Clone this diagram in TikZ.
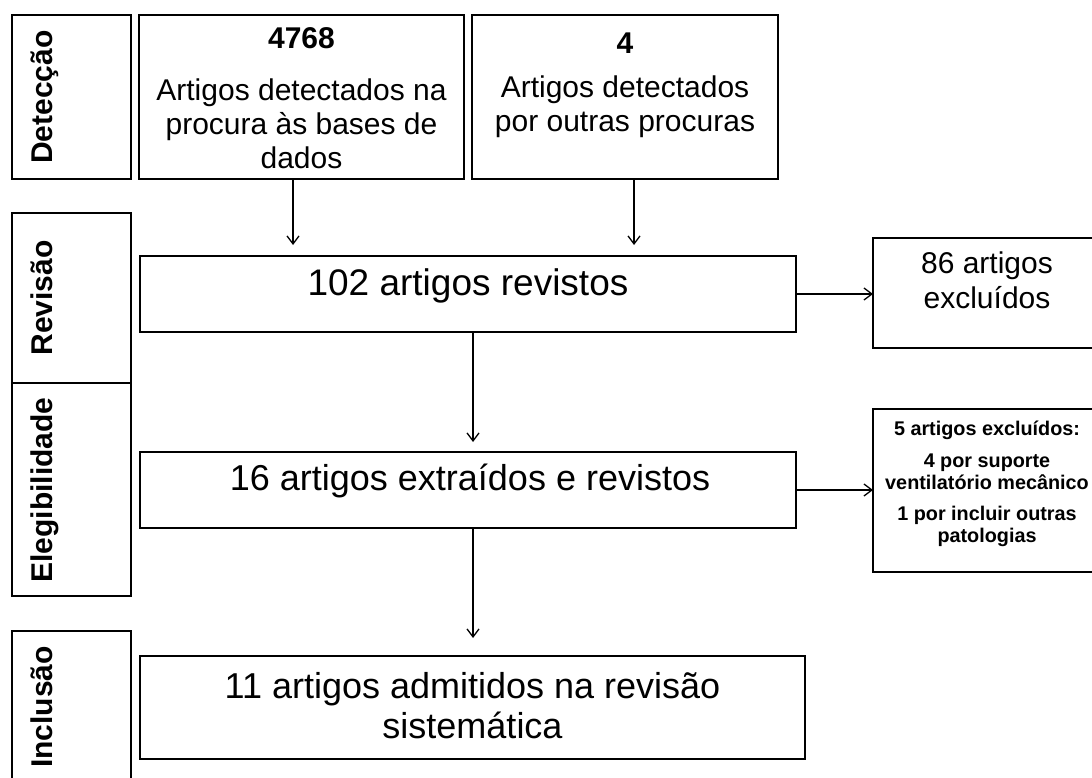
\documentclass[tikz,border=0pt]{standalone}
\usepackage{fontspec}
\setmainfont{Liberation Sans}
\usetikzlibrary{arrows.meta}

\newcommand{\fsz}[2]{\fontsize{#1}{#2}\selectfont}

\begin{document}
\begin{tikzpicture}[x=1pt, y=-1pt,
    caixa/.style={draw, line width=2.7pt, inner sep=0pt, outer sep=0pt},
    fase/.style={rotate=90, anchor=base, inner sep=0pt, font=\fsz{30}{34}\bfseries},
    texto/.style={align=center, inner sep=0pt, anchor=north},
    seta/.style={line width=1.3pt, -{Straight Barb[length=8pt,width=12pt]}}]
  \useasboundingbox (0,0) rectangle (1092,778);
  % fases
  \node[caixa, minimum width=119pt, minimum height=164pt] (fdet) at (71.5,97) {};
  \node[caixa, minimum width=119pt, minimum height=170pt] (frev) at (71.5,298) {};
  \node[caixa, minimum width=119pt, minimum height=213pt] (feleg) at (71.5,489.5) {};
  \node[caixa, minimum width=119pt, minimum height=159pt] (finc) at (71.5,710.5) {};
  \node[fase] (tdet) at (52,97) {Detecção};
  \node[fase] (trev) at (52,298) {Revisão};
  \node[fase] (teleg) at (52,490) {Elegibilidade};
  \node[fase] (tinc) at (52,707) {Inclusão};
  % caixas
  \node[caixa, minimum width=325pt, minimum height=164pt] (db) at (301.5,97) {};
  \node[caixa, minimum width=306pt, minimum height=164pt] (outras) at (625,97) {};
  \node[caixa, minimum width=656pt, minimum height=76pt] (rev) at (468,294) {};
  \node[caixa, minimum width=228pt, minimum height=110pt] (exc1) at (987,293) {};
  \node[caixa, minimum width=656pt, minimum height=76pt] (eleg) at (468,490) {};
  \node[caixa, minimum width=228pt, minimum height=163pt] (exc2) at (987,490.5) {};
  \node[caixa, minimum width=665pt, minimum height=103pt] (inc) at (472.5,707.5) {};
  % textos
  \node[texto, font=\fsz{30}{34}] (tdb) at (301.5,24.2)
    {\strut\textbf{4768}\\[18pt]\strut Artigos detectados na\\\strut procura às bases de\\\strut dados};
  \node[texto, font=\fsz{30}{34}] (toutras) at (625,29.2)
    {\strut\textbf{4}\\[10pt]\strut Artigos detectados\\\strut por outras procuras};
  \node[texto, font=\fsz{37}{40}] (trevt) at (468,267) {\strut 102 artigos revistos};
  \node[texto, font=\fsz{30}{35}] (texc1) at (987,248.5) {\strut 86 artigos\\\strut excluídos};
  \node[texto, font=\fsz{36}{40}] (telegt) at (470,462) {\strut 16 artigos extraídos e revistos};
  \node[texto, font=\fsz{19.8}{22}\bfseries] (texc2) at (987,419.6)
    {\strut 5 artigos excluídos:\\[10pt]\strut 4 por suporte\\\strut ventilatório mecânico\\[9pt]\strut 1 por incluir outras\\\strut patologias};
  \node[texto, font=\fsz{36}{40}] (tinct) at (472.5,670)
    {\strut 11 artigos admitidos na revisão\\\strut sistemática};
  % setas
  \draw[seta, shorten >=11pt] ([xshift=-8.5pt]db.south) -- ([xshift=-8.5pt]db.south |- rev.north);
  \draw[seta, shorten >=11pt] ([xshift=9pt]outras.south) -- ([xshift=9pt]outras.south |- rev.north);
  \draw[seta, shorten >=10pt] ([xshift=5pt]rev.south) -- ([xshift=5pt]rev.south |- eleg.north);
  \draw[seta, shorten >=18pt] ([xshift=5pt]eleg.south) -- ([xshift=5pt]eleg.south |- inc.north);
  \draw[seta] (rev.east) -- (rev.east -| exc1.west);
  \draw[seta] (eleg.east) -- (eleg.east -| exc2.west);
\end{tikzpicture}
\end{document}
